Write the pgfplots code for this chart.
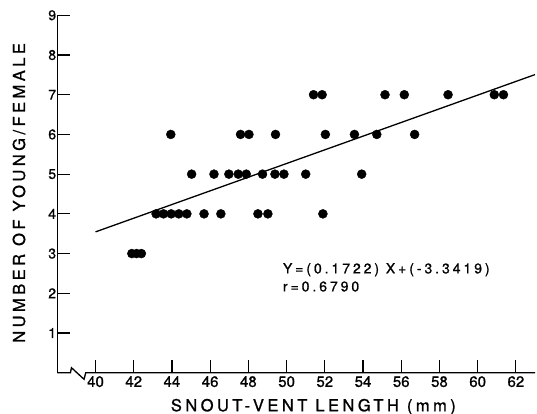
\documentclass[border=0pt]{standalone}
\usepackage{fontspec}
\setmainfont{TeX Gyre Heros}[FakeBold=1]
\newfontfamily\lab{TeX Gyre Heros}[LetterSpace=21, FakeBold=1]
\usepackage{pgfplots}
\pgfplotsset{compat=1.18}

\begin{document}
\begin{tikzpicture}
\begin{axis}[
    width=477.7pt, height=357.4pt, scale only axis,
    xmin=38, xmax=63, ymin=0, ymax=9,
    axis x line*=bottom, axis y line*=left,
    x axis line style={draw=none},
    y axis line style={line width=1.3pt},
    xtick={40,42,...,62}, ytick={1,2,...,9},
    tick align=inside,
    major tick length=13pt,
    every tick/.style={line width=1.2pt, black},
    /pgf/number format/assume math mode=true,
    xticklabel style={font=\fontsize{15}{15}\selectfont},
    yticklabel style={font=\fontsize{14}{14}\selectfont, inner sep=1pt},
    xlabel={SNOUT-VENT LENGTH (mm)},
    xlabel style={at={(rel axis cs:0.536,0)}, anchor=north, yshift=-26pt,
        inner sep=0pt, font=\lab\fontsize{16.5}{16.5}\selectfont},
    ylabel={NUMBER OF YOUNG/FEMALE},
    ylabel style={at={(rel axis cs:0,0.503)}, anchor=center, yshift=38.3pt,
        inner sep=0pt, font=\lab\fontsize{16.5}{16.5}\selectfont},
    clip=false,
]
% observations
\addplot[only marks, mark=*, mark size=4.5pt, black] coordinates {
    (41.9,3) (42.15,3) (42.4,3)
    (43.17,4) (43.56,4) (43.96,4) (44.36,4) (44.78,4)
    (45.68,4) (46.56,4) (48.50,4) (49.02,4) (51.90,4)
    (45.03,5) (46.20,5) (46.98,5) (47.47,5) (47.89,5)
    (48.74,5) (49.39,5) (49.86,5) (51.00,5) (53.93,5)
    (43.94,6) (47.59,6) (48.03,6) (49.42,6) (52.03,6)
    (53.55,6) (54.72,6) (56.70,6)
    (51.41,7) (51.86,7) (55.15,7) (56.16,7) (58.45,7)
    (60.87,7) (61.35,7)
};
% regression line Y = 0.1722 X - 3.3419
\addplot[line width=1.3pt, no marks] coordinates {(40,3.5461) (63,7.5067)};

% x axis with break
\draw[line width=1.3pt] (axis cs:38,0) -- (axis cs:38.69,0) -- (axis cs:38.74,0.126)
    -- (axis cs:39.40,-0.166) -- (axis cs:39.49,0) -- (axis cs:63,0);

\node[anchor=north west, inner sep=0pt, align=left,
      font=\lab\fontsize{14}{18}\selectfont] at (axis cs:49.80,2.763)
    {Y=(0.1722) X+(-3.3419)\\r=0.6790};

\coordinate (O) at (rel axis cs:0,0);
\end{axis}
\pgfresetboundingbox
\path (O) ++(-57.3pt,-41.3pt) rectangle ++(537pt,414pt);
\end{tikzpicture}
\end{document}
